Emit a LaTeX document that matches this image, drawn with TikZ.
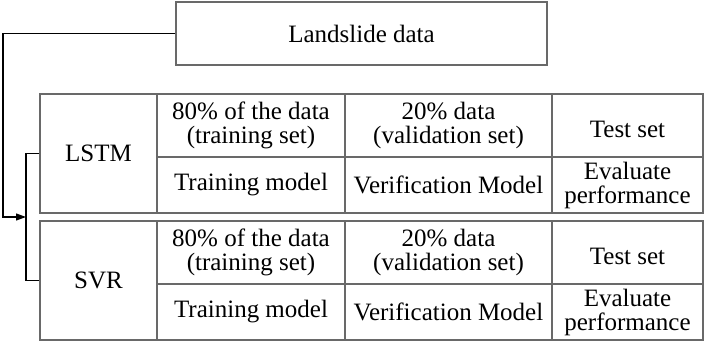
\documentclass[tikz,border=0pt]{standalone}
\usepackage{fontspec}
\setmainfont{Liberation Serif}
\usetikzlibrary{arrows.meta}
\definecolor{gridgray}{RGB}{105,105,105}
\begin{document}
\begin{tikzpicture}[x=1pt,y=-1pt,
  cell/.style={draw=gridgray, line width=1.2pt, inner sep=0pt, align=center,
    font=\fontsize{25}{24}\selectfont},
  conn/.style={draw=black, line width=1.2pt}]
\useasboundingbox (0,0) rectangle (706,342);

% top box
\node[cell, minimum width=371pt, minimum height=63pt] (data) at (361.5,33.5) {Landslide data};

% LSTM table
\node[cell, minimum width=117pt, minimum height=119pt] (lstm) at (98.5,153.5) {LSTM};
\node[cell, minimum width=188pt, minimum height=63pt] (l11) at (251,125.5) {80\% of the data\\(training set)};
\node[cell, minimum width=207pt, minimum height=63pt] (l12) at (448.5,125.5) {20\% data\\(validation set)};
\node[cell, minimum width=151pt, minimum height=63pt, text height=23pt, text depth=0pt] (l13) at (627.5,125.5) {Test set};
\node[cell, minimum width=188pt, minimum height=56pt] (l21) at (251,185) {Training model};
\node[cell, minimum width=207pt, minimum height=56pt] (l22) at (448.5,185) {Verification Model};
\node[cell, minimum width=151pt, minimum height=56pt] (l23) at (627.5,185) {Evaluate\\performance};

% SVR table
\node[cell, minimum width=117pt, minimum height=119pt] (svr) at (98.5,280.5) {SVR};
\node[cell, minimum width=188pt, minimum height=63pt] (s11) at (251,252.5) {80\% of the data\\(training set)};
\node[cell, minimum width=207pt, minimum height=63pt] (s12) at (448.5,252.5) {20\% data\\(validation set)};
\node[cell, minimum width=151pt, minimum height=63pt, text height=23pt, text depth=0pt] (s13) at (627.5,252.5) {Test set};
\node[cell, minimum width=188pt, minimum height=56pt] (s21) at (251,312) {Training model};
\node[cell, minimum width=207pt, minimum height=56pt] (s22) at (448.5,312) {Verification Model};
\node[cell, minimum width=151pt, minimum height=56pt] (s23) at (627.5,312) {Evaluate\\performance};

% connectors
\coordinate (corner) at (3,33.5);
\coordinate (brk) at (26,217);
\draw[conn, -{Triangle[length=10pt,width=7pt]}] (data.west) -- (corner) |- (brk);
\draw[conn] (lstm.west) -- (lstm.west -| brk) -- (svr.west -| brk) -- (svr.west);
\end{tikzpicture}
\end{document}
